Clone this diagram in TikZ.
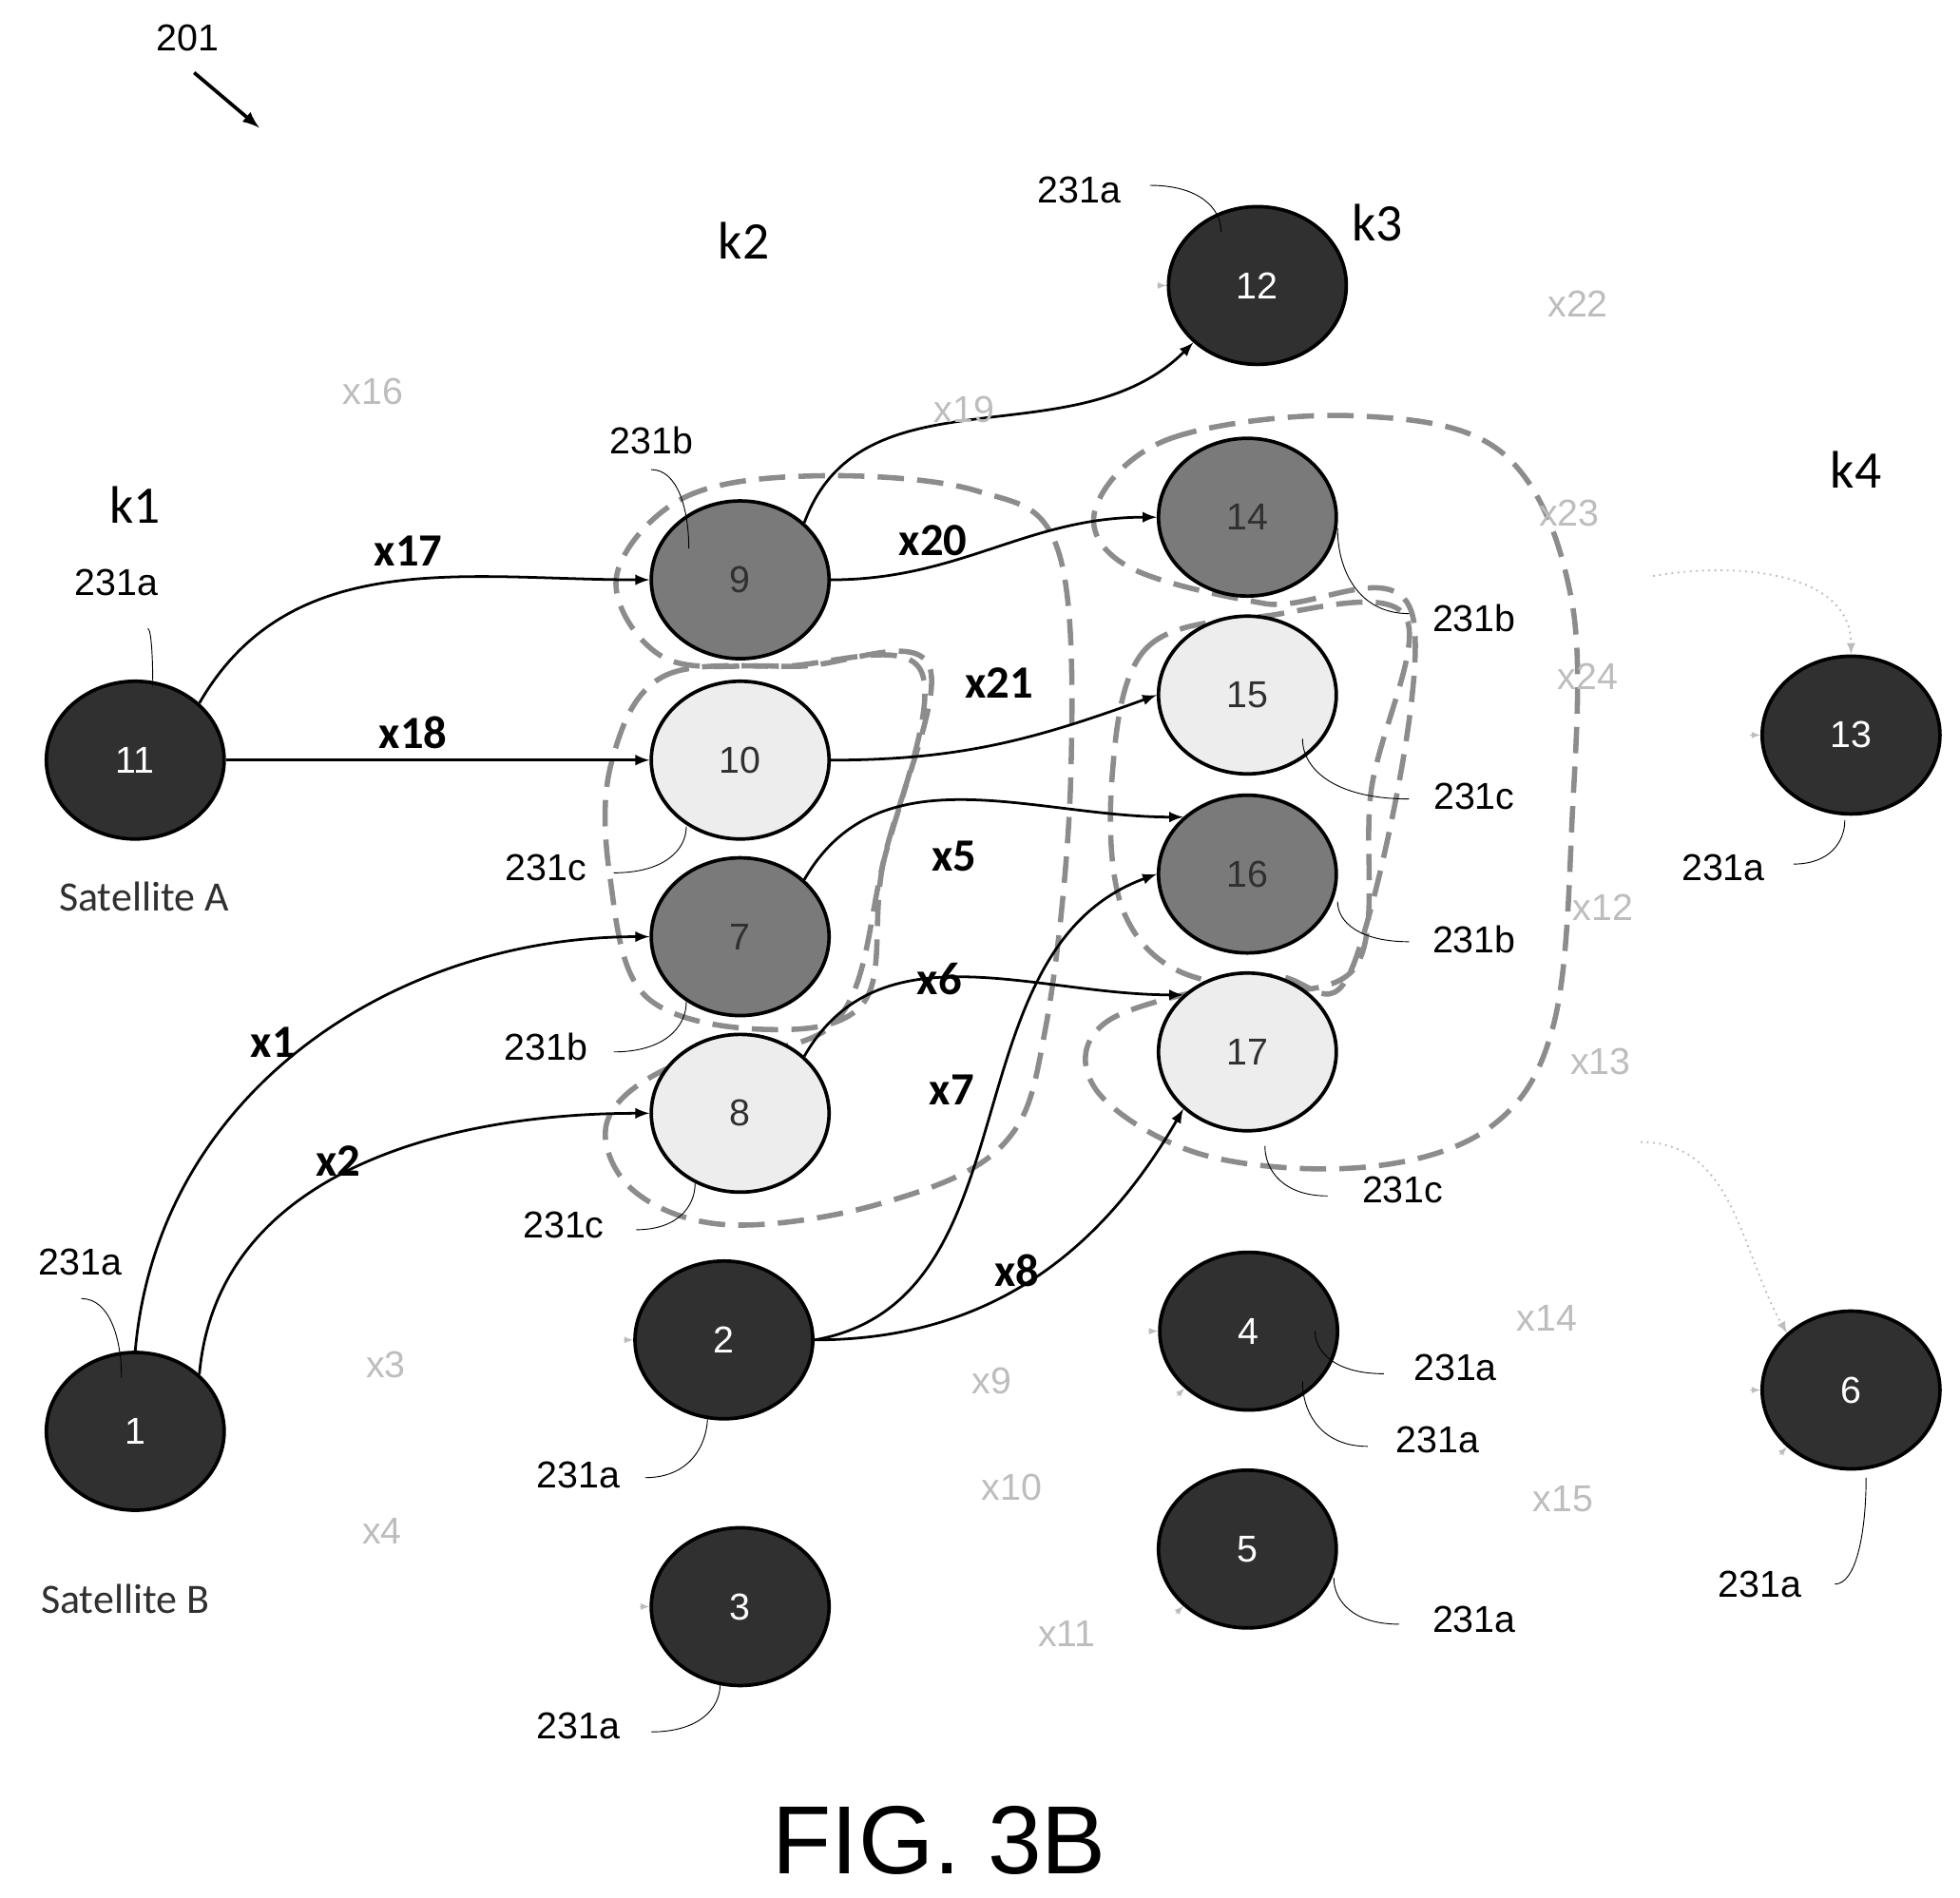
\documentclass[tikz,border=0pt]{standalone}
\usepackage{fontspec}
\setmainfont{Liberation Sans}
\newfontfamily\carl{Carlito}
\usetikzlibrary{shapes.geometric}
\definecolor{darknode}{HTML}{303030}
\definecolor{midnode}{HTML}{7A7A7A}
\definecolor{lightnode}{HTML}{EDEDED}
\definecolor{faint}{HTML}{BDBDBD}
\definecolor{dashgray}{HTML}{8C8C8C}
\begin{document}
\begin{tikzpicture}[x=0.02cm,y=-0.02cm,>=latex,thick,
  sat/.style={ellipse,draw=black,line width=1.6pt,minimum width=2.84cm,minimum height=2.52cm,inner sep=0pt,font=\fontsize{17}{17}\selectfont},
  dark/.style={sat,fill=darknode,text=white},
  mid/.style={sat,fill=midnode,text=darknode},
  light/.style={sat,fill=lightnode,text=darknode},
  link/.style={->,line width=1.2pt},
  lbl/.style={font=\fontsize{17}{17}\selectfont},
  xl/.style={font=\carl\bfseries\fontsize{21}{21}\selectfont},
  xf/.style={font=\fontsize{17}{17}\selectfont,text=faint},
  kl/.style={font=\carl\fontsize{24}{24}\selectfont},
  region/.style={draw=dashgray,dashed,line width=2.4pt,dash pattern=on 12pt off 6pt}]
\useasboundingbox (0,0) rectangle (1565,1515);
% regions
\draw[region] plot[smooth cycle,tension=0.6] coordinates {(492,462) (545,398) (650,380) (780,392) (845,440) (855,620) (835,820) (800,915) (700,962) (580,978) (505,950) (485,895) (540,850) (665,818) (705,690) (735,535) (620,532) (530,525)};
\draw[region] plot[smooth cycle,tension=0.6] coordinates {(488,610) (530,540) (640,532) (742,532) (705,690) (690,800) (610,822) (515,795) (487,700)};
\draw[region] plot[smooth cycle,tension=0.6] coordinates {(875,405) (935,350) (1080,332) (1200,362) (1255,480) (1255,660) (1240,820) (1190,900) (1090,932) (960,922) (875,870) (885,815) (1010,780) (1080,772) (1128,492) (1010,482) (900,452)};
\draw[region] plot[smooth cycle,tension=0.6] coordinates {(888,620) (915,518) (1010,492) (1122,492) (1095,630) (1080,775) (960,782) (898,730)};
% nodes
\node[dark] (n11) at (108,607) {11};
\node[dark] (n1) at (108,1143) {1};
\node[dark] (n2) at (578,1070) {2};
\node[dark] (n3) at (591,1283) {3};
\node[mid] (n9) at (591,463) {9};
\node[light] (n10) at (591,607) {10};
\node[mid] (n7) at (591,748) {7};
\node[light] (n8) at (591,889) {8};
\node[dark] (n12) at (1004,228) {12};
\node[mid] (n14) at (996,413) {14};
\node[light] (n15) at (996,555) {15};
\node[mid] (n16) at (996,698) {16};
\node[light] (n17) at (996,840) {17};
\node[dark] (n4) at (997,1063) {4};
\node[dark] (n5) at (996,1237) {5};
\node[dark] (n13) at (1478,587) {13};
\node[dark] (n6) at (1478,1110) {6};
% links
\draw[link] (n11.north east) to[out=60,in=180] (n9.west);
\draw[link] (n11.east) -- (n10.west);
\draw[link] (n9.north east) to[out=70,in=225] (n12.south west);
\draw[link] (n9.east) to[out=0,in=180] (n14.west);
\draw[link] (n10.east) to[out=0,in=200] (n15.west);
\draw[link] (n7.north east) to[out=60,in=180] (n16.north west);
\draw[link] (n8.north east) to[out=60,in=180] (n17.north west);
\draw[link] (n1.north) to[out=85,in=180] (n7.west);
\draw[link] (n1.north east) to[out=85,in=180] (n8.west);
\draw[link] (n2.east) to[out=10,in=200] (n16.west);
\draw[link] (n2.east) to[out=0,in=240] (n17.south west);
% faint links
\draw[->,faint,dotted] (1320,460) to[out=10,in=90] (n13.north);
\draw[->,faint,dotted] (1310,912) to[out=0,in=120] (n6.north west);
\foreach \n in {n12,n2,n3,n4,n13,n6}
  \draw[<-,faint,thin] (\n.west) -- ++(-8,0);
\draw[<-,faint,thin] (n4.south west) -- ++(-6,6);
\draw[<-,faint,thin] (n5.south west) -- ++(-6,6);
\draw[<-,faint,thin] (n6.south west) -- ++(-6,6);
% labels
\node[kl] at (108,403) {k1};
\node[kl] at (594,192) {k2};
\node[kl] at (1100,178) {k3};
\node[kl] at (1482,375) {k4};
\foreach \t/\x/\y in {x17/326/440,x18/330/585,x20/745/432,x21/798/545,x5/762/684,x6/750/782,x7/760/870,x1/218/832,x2/270/927,x8/812/1015}
  \node[xl] at (\x,\y) {\t};
\foreach \t/\x/\y in {x16/298/313,x19/770/327,x22/1260/243,x23/1253/410,x24/1268/540,x12/1280/725,x13/1278/848,x14/1235/1053,x15/1248/1197,x3/308/1090,x4/305/1223,x9/792/1103,x10/808/1188,x11/852/1305}
  \node[xf] at (\x,\y) {\t};
\node[font=\carl\fontsize{19}{19}\selectfont,text=darknode] at (115,716) {Satellite A};
\node[font=\carl\fontsize{19}{19}\selectfont,text=darknode] at (100,1277) {Satellite B};
\node[lbl] at (150,30) {201};
\draw[->,line width=1.6pt] (155,58) -- (207,102);
\node[font=\fontsize{44}{44}\selectfont] at (750,1470) {FIG. 3B};
% leaders
\foreach \t/\x/\y/\a/\b/\c/\d in {231a/862/152/918/148/975/185, 231b/520/352/520/375/550/438, 231a/93/465/118/502/122/548,
  231c/436/693/490/697/548/660, 231b/436/836/490/840/548/800, 231c/450/978/508/982/555/945, 231a/64/1008/65/1037/97/1100,
  231a/462/1178/515/1180/565/1130, 231a/462/1378/520/1383/575/1345, 231b/1177/494/1125/490/1068/422,
  231c/1177/636/1125/638/1040/590, 231b/1177/750/1125/752/1068/720, 231c/1120/950/1060/955/1010/915,
  231a/1162/1092/1105/1097/1050/1063, 231a/1148/1150/1092/1155/1040/1103, 231a/1177/1293/1117/1297/1065/1260,
  231a/1376/693/1432/690/1473/655, 231a/1405/1265/1465/1265/1490/1180}{
  \node[lbl] at (\x,\y) {\t};
  \draw[thin] (\a,\b) .. controls ({\a+0.7*(\c-\a)},\b) and (\c,{\b+0.5*(\d-\b)}) .. (\c,\d);
}
\end{tikzpicture}
\end{document}
